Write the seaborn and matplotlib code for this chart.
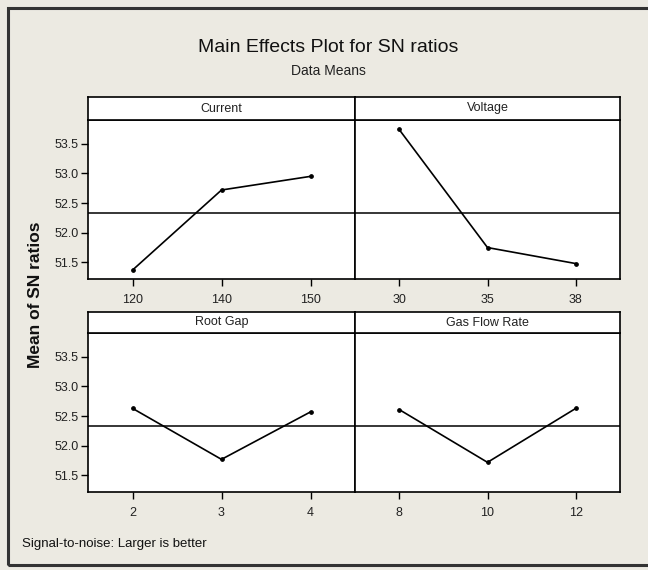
import numpy as np
import pandas as pd
import seaborn as sns
import matplotlib.pyplot as plt
from matplotlib.patches import Rectangle

# factor levels and mean SN ratios
current_levels = ['120', '140', '150']
current_sn = [51.37, 52.72, 52.95]
voltage_levels = ['30', '35', '38']
voltage_sn = [53.74, 51.75, 51.48]
rootgap_levels = ['2', '3', '4']
rootgap_sn = [52.63, 51.77, 52.57]
gasflow_levels = ['8', '10', '12']
gasflow_sn = [52.61, 51.72, 52.63]

factors = ['Current', 'Voltage', 'Root Gap', 'Gas Flow Rate']
y_ticks = [51.5, 52.0, 52.5, 53.0, 53.5]

df = pd.DataFrame({
    'factor': np.repeat(factors, 3),
    'level': current_levels + voltage_levels + rootgap_levels + gasflow_levels,
    'sn': current_sn + voltage_sn + rootgap_sn + gasflow_sn,
})
grand_mean = df['sn'].mean()  # reference line for every panel

sns.set_style('ticks')
plt.rcParams['font.family'] = ['Liberation Sans', 'DejaVu Sans']

bg = '#ECEAE2'
fig = plt.figure(figsize=(6.48, 5.7), dpi=100, facecolor=bg)
W, H = 648.0, 570.0

# outer frame (no right edge visible in the reference)
fig.add_artist(Rectangle((8 / W, 5 / H), 1.2, 557 / H, transform=fig.transFigure,
                         fill=False, edgecolor='#333333', linewidth=2.2))

# panel layout in pixels: (left, right), (strip top, plot top, plot bottom)
cols = [(88, 355), (355, 620)]
rows = [(97, 120, 279), (312, 333, 492)]

for i, name in enumerate(factors):
    r, c = divmod(i, 2)
    x0, x1 = cols[c]
    s_top, p_top, p_bot = rows[r]
    ax = fig.add_axes([x0 / W, 1 - p_bot / H, (x1 - x0) / W, (p_bot - p_top) / H])
    sax = fig.add_axes([x0 / W, 1 - p_top / H, (x1 - x0) / W, (p_top - s_top) / H])

    sub = df[df['factor'] == name]
    sns.pointplot(data=sub, x='level', y='sn', order=list(sub['level']), ax=ax,
                  color='black', markers='o', markersize=2.5, linewidth=1.2,
                  errorbar=None)
    ax.axhline(grand_mean, color='black', linewidth=1.1, zorder=0)

    ax.set_xlim(-0.5, 2.5)
    ax.set_ylim(51.22, 53.9)
    ax.set_yticks(y_ticks)
    ax.set_yticklabels(['%.1f' % t for t in y_ticks])
    ax.set_xlabel('')
    ax.set_ylabel('')
    ax.set_facecolor('white')
    for sp in ax.spines.values():
        sp.set_visible(True)
        sp.set_color('black')
        sp.set_linewidth(1.2)
    ax.tick_params(axis='both', direction='out', length=5, width=1, color='black',
                   labelsize=9, pad=2, labelcolor='#222222')
    ax.tick_params(axis='x', pad=6)
    if c == 1:
        ax.tick_params(axis='y', left=False, labelleft=False)

    sax.set_facecolor('white')
    sax.set_xticks([])
    sax.set_yticks([])
    for sp in sax.spines.values():
        sp.set_visible(True)
        sp.set_color('black')
        sp.set_linewidth(1.2)
    sax.text(0.5, 0.5, name, ha='center', va='center', fontsize=9,
             color='#222222', transform=sax.transAxes)

fig.text(328 / W, 1 - 47 / H, 'Main Effects Plot for SN ratios', ha='center',
         va='center', fontsize=14, color='#111111')
fig.text(328 / W, 1 - 71 / H, 'Data Means', ha='center', va='center',
         fontsize=10, color='#222222')
fig.text(36 / W, 1 - 295 / H, 'Mean of SN ratios', ha='center', va='center',
         rotation=90, fontsize=12.5, fontweight='bold', color='#111111')
fig.text(22 / W, 1 - 544 / H, 'Signal-to-noise: Larger is better', ha='left',
         va='center', fontsize=9.5, color='#111111')

fig.savefig('out.png', dpi=100, facecolor=bg)
